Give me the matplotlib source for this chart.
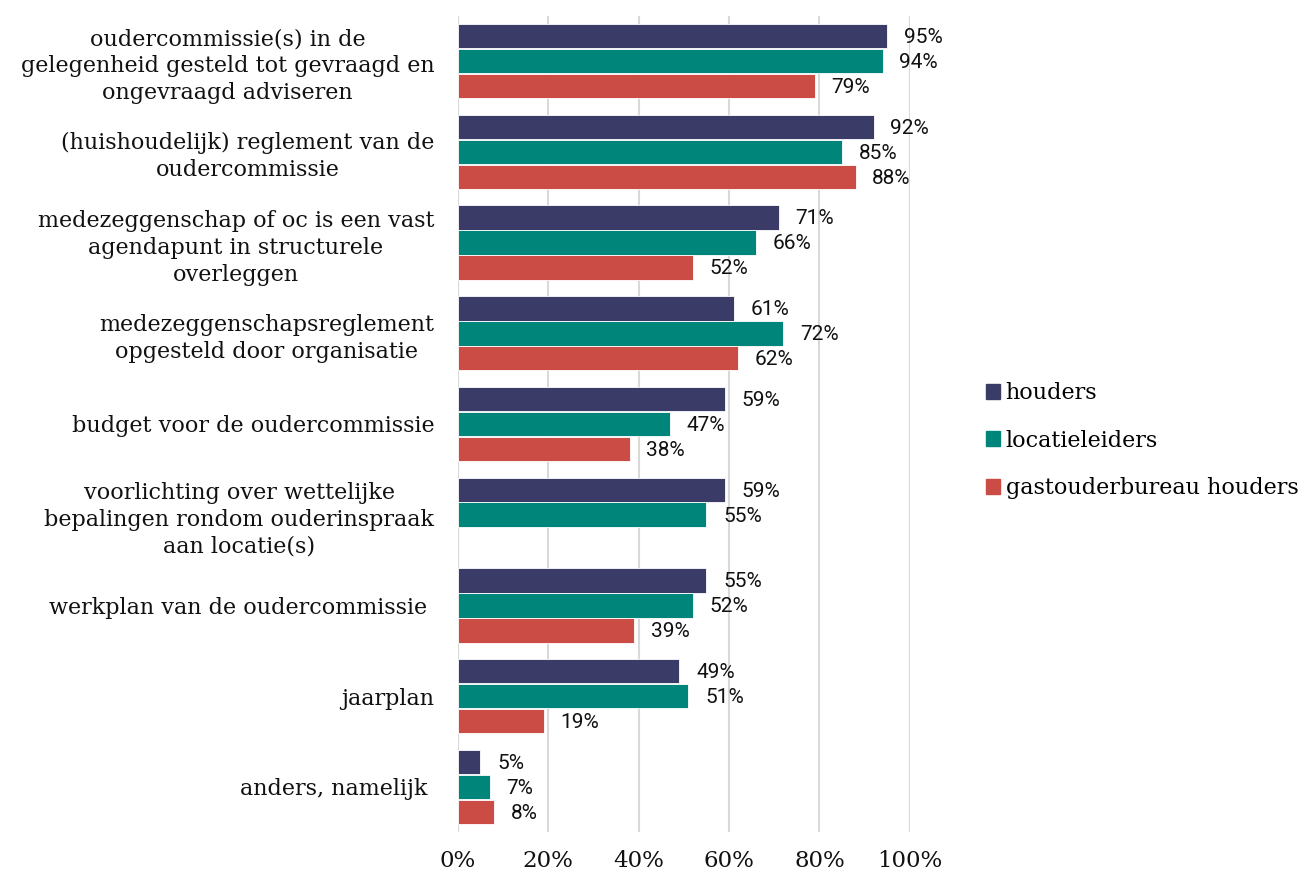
import matplotlib.pyplot as plt
import matplotlib.patches as mpatches
import numpy as np

# categories top to bottom
categories = [
    "oudercommissie(s) in de\ngelegenheid gesteld tot gevraagd en\nongevraagd adviseren",
    "(huishoudelijk) reglement van de\noudercommissie",
    "medezeggenschap of oc is een vast\nagendapunt in structurele\noverleggen",
    "medezeggenschapsreglement\nopgesteld door organisatie",
    "budget voor de oudercommissie",
    "voorlichting over wettelijke\nbepalingen rondom ouderinspraak\naan locatie(s)",
    "werkplan van de oudercommissie ",
    "jaarplan",
    "anders, namelijk ",
]
houders = [95, 92, 71, 61, 59, 59, 55, 49, 5]
locatieleiders = [94, 85, 66, 72, 47, 55, 52, 51, 7]
gastouderbureau = [79, 88, 52, 62, 38, None, 39, 19, 8]

series_names = ["houders", "locatieleiders", "gastouderbureau houders"]
colors = ["#3a3b67", "#00857a", "#cb4c44"]

serif = "DejaVu Serif"
sans = "Roboto"


def main():
    fig = plt.figure(figsize=(13.12, 8.76), dpi=100)
    ax = fig.add_axes([0.349, 0.050, 0.3445, 0.932])

    n = len(categories)
    y = np.arange(n)
    step = 0.275
    height = 0.27

    for k, (vals, color) in enumerate(zip([houders, locatieleiders, gastouderbureau], colors)):
        offs = (k - 1) * step
        for i, v in enumerate(vals):
            if v is None:
                continue
            ax.barh(y[i] + offs, v, height=height, color=color,
                    edgecolor="white", linewidth=0.6, zorder=3)
            ax.annotate(f"{v}%", xy=(v, y[i] + offs), xytext=(12, -1),
                        textcoords="offset points", ha="left", va="center",
                        fontsize=15, family=sans, color="#111111")

    ax.set_xlim(0, 100)
    ax.set_ylim(n - 0.5, -0.5)
    ax.set_xticks([0, 20, 40, 60, 80, 100])
    ax.set_xticklabels([f"{t}%" for t in [0, 20, 40, 60, 80, 100]],
                       family=serif, fontsize=16.5, color="#111111")
    ax.set_yticks(y)
    ax.set_yticklabels(categories, family=serif, fontsize=16, color="#111111",
                       multialignment="center", linespacing=1.3)
    ax.tick_params(axis="both", length=0)
    ax.tick_params(axis="y", pad=17)
    ax.tick_params(axis="x", pad=13)
    ax.grid(axis="x", color="#d9d9d9", linewidth=1.5, zorder=0)
    for s in ax.spines.values():
        s.set_visible(False)

    handles = [mpatches.Patch(color=c, label=l) for c, l in zip(colors, series_names)]
    fig.legend(handles=handles, loc="center left", bbox_to_anchor=(0.736, 0.497),
               frameon=False, handlelength=0.65, handleheight=0.65, handletextpad=0.25,
               labelspacing=1.15, prop={"family": serif, "size": 16})

    fig.savefig("out.png", dpi=100)


if __name__ == "__main__":
    main()
